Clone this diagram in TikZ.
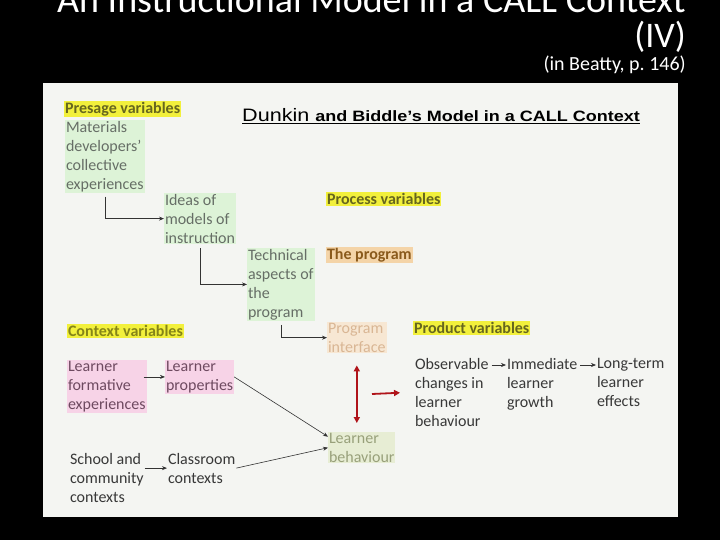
\documentclass[tikz,border=0pt]{standalone}
\usepackage{fontspec}
\setmainfont{Carlito}
\newfontfamily\arialfont{Liberation Sans}
\usetikzlibrary{arrows.meta}

\definecolor{panelbg}{HTML}{F4F5F2}
\definecolor{hlyellow}{HTML}{F2F03C}
\definecolor{hlgreen}{HTML}{DDF3D7}
\definecolor{hlpink}{HTML}{F7D3E7}
\definecolor{hlorange}{HTML}{F4D4A8}
\definecolor{hlpeach}{HTML}{F7E7D3}
\definecolor{hlolive}{HTML}{E7EDD4}
\definecolor{txtolive}{HTML}{66661E}
\definecolor{txtgray}{HTML}{666E66}
\definecolor{txtplum}{HTML}{6E4A60}
\definecolor{txtbrown}{HTML}{8A5A1C}
\definecolor{txtpeach}{HTML}{D9B694}
\definecolor{txtsage}{HTML}{98A07A}
\definecolor{txtdark}{HTML}{383838}
\definecolor{darkred}{HTML}{B0141A}

\begin{document}
\begin{tikzpicture}[x=1pt,y=-1pt,
    arr/.style={-{Stealth[length=5pt,width=4pt]},draw=black!80,line width=0.6pt},
    redarr/.style={-{Triangle[length=6pt,width=6pt]},draw=darkred,line width=1.8pt},
    dblred/.style={{Triangle[length=6pt,width=6pt]}-{Triangle[length=6pt,width=6pt]},draw=darkred,line width=1.8pt},
    heading/.style={fill=hlyellow,text=txtolive,font=\fontsize{16}{19}\selectfont\bfseries},
    block/.style={anchor=north west,align=left,font=\fontsize{16}{19}\selectfont}]

  \useasboundingbox (0,0) rectangle (720,540);
  \fill[black] (0,0) rectangle (720,540);
  \fill[panelbg] (43,83) rectangle (678,517);

  \begin{scope}[every node/.style={text=white,inner sep=0pt}]
    \node (title) [anchor=base east,font=\fontsize{38}{38}\selectfont] at (686,13) {An Instructional Model in a CALL Context};
    \node (part) [anchor=base east,font=\fontsize{36}{36}\selectfont] at (686,48) {(IV)};
    \node (source) [anchor=base east,font=\fontsize{20}{20}\selectfont] at (686,71) {(in Beatty, p.~146)};
  \end{scope}

  \node (header) [anchor=base west,inner sep=0pt,text=black] at (242,122)
    {\arialfont\scalebox{1.2}[1]{\underline{\hbox{\fontsize{18}{18}\selectfont Dunkin \fontsize{15}{15}\selectfont\bfseries and Biddle’s Model in a CALL Context}}}};

  \begin{scope}[every node/.style={inner sep=1pt,outer sep=0pt}]
    \node (presage)   [heading,anchor=west] at (64,109)  {Presage variables};
    \node (process)   [heading,anchor=west] at (326,199) {Process variables};
    \node (context)   [heading,anchor=west,text=txtolive!80!yellow] at (67,331) {Context variables};
    \node (product)   [heading,anchor=west] at (413,328) {Product variables};
    \node (program)   [heading,anchor=west,fill=hlorange,text=txtbrown] at (326,255) {The program};

    \node (matdev)    [block,fill=hlgreen,text=txtgray] at (65,120)  {Materials\\developers’\\collective\\experiences};
    \node (ideas)     [block,fill=hlgreen,text=txtgray] at (164,193) {Ideas of\\models of\\instruction};
    \node (technical) [block,fill=hlgreen,text=txtgray] at (247,248) {Technical\\aspects of\\the\\program};
    \node (interface) [block,fill=hlpeach,text=txtpeach] at (327,322) {Program\\interface};
    \node (formative) [block,fill=hlpink,text=txtplum] at (67,360)   {Learner\\formative\\experiences};
    \node (props)     [block,fill=hlpink,text=txtplum] at (165,360)  {Learner\\properties};
    \node (school)    [block,text=txtdark] at (69,452)  {School and\\community\\contexts};
    \node (classroom) [block,text=txtdark] at (167,452) {Classroom\\contexts};
    \node (behav)     [block,fill=hlolive,text=txtsage] at (328,432) {Learner\\behaviour};
    \node (obs)       [block,text=txtdark] at (414,357) {Observable\\changes in\\learner\\behaviour};
    \node (immed)     [block,text=txtdark] at (506,357) {Immediate\\learner\\growth};
    \node (longterm)  [block,text=txtdark] at (596,357) {Long-term\\learner\\effects};
  \end{scope}

  \coordinate (redtail) at (372,394);

  \draw[arr,shorten <=4pt] (matdev.south) |- (ideas.west);
  \draw[arr,shorten <=4pt] (ideas.south) |- (technical.west);
  \draw[arr,shorten <=4pt] (technical.south) |- (interface.west);
  \draw[arr,shorten <=-3pt] (props.west -| formative.east) -- (props.west);
  \draw[arr] (classroom.west -| school.east) -- (classroom.west);
  \draw[arr] (props.east) -- ([yshift=11pt]behav.west);
  \draw[arr] (classroom.east) -- (behav.west);
  \draw[arr,shorten <=2pt] ([yshift=-8pt]obs.north east) -- ([yshift=-8pt]immed.north west);
  \draw[arr,shorten <=2pt] ([yshift=-8pt]immed.north east) -- ([yshift=-8pt]longterm.north west);

  \draw[dblred,shorten <=12pt,shorten >=9pt] (interface.south) -- (interface.south |- behav.north);
  \draw[redarr,shorten >=14pt] (redtail) -- (obs.west);

\end{tikzpicture}
\end{document}
